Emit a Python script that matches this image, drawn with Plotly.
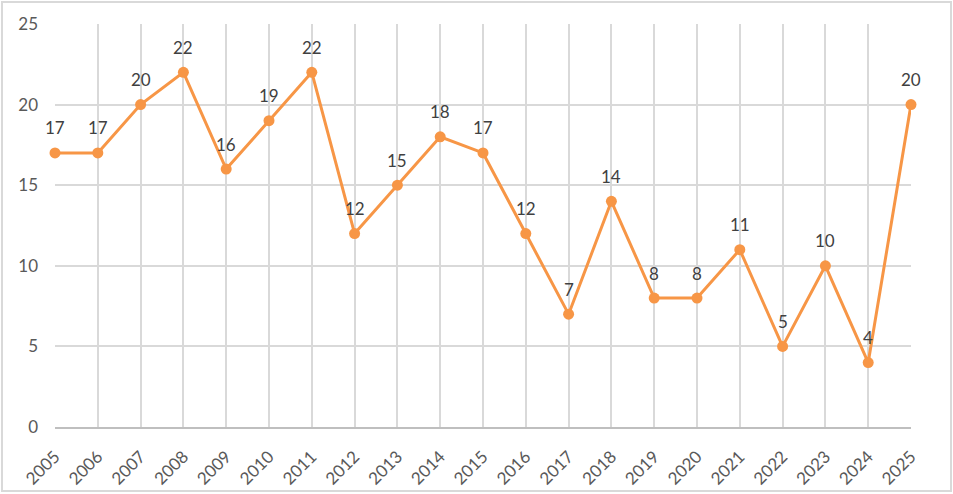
import plotly.graph_objects as go

# data
years = list(range(2005, 2026))
values = [17, 17, 20, 22, 16, 19, 22, 12, 15, 18, 17, 12, 7, 14, 8, 8, 11, 5, 10, 4, 20]

W, H = 953, 494
L, R, T, B = 55, 42, 24, 67
pw, ph = W - L - R, H - T - B

fig = go.Figure(go.Scatter(
    x=years, y=values,
    mode="lines+markers",
    line=dict(color="#F79646", width=3),
    marker=dict(size=11, color="#F79646"),
    cliponaxis=False,
    hoverinfo="x+y",
))

# data labels above each point
for yr, v in zip(years, values):
    fig.add_annotation(
        x=yr, y=v, text=str(v), showarrow=False, yshift=25,
        font=dict(size=17, color="#404040"),
    )

fig.update_layout(
    width=W, height=H,
    margin=dict(l=L, r=R, t=T, b=B),
    paper_bgcolor="white", plot_bgcolor="white",
    font=dict(family="Lato, Open Sans, sans-serif", size=17, color="#595959"),
    showlegend=False,
)

fig.update_xaxes(
    range=[2005, 2025], tickmode="linear", tick0=2005, dtick=1,
    tickangle=-45, showgrid=True, gridcolor="#D9D9D9", gridwidth=1.5,
    showline=True, linecolor="#BFBFBF", linewidth=2,
    ticks="", zeroline=False, ticklabelstandoff=11, automargin=False,
)
fig.update_yaxes(
    range=[0, 25], dtick=5, showgrid=True, gridcolor="#D9D9D9", gridwidth=1.5,
    showline=False, zeroline=False, ticks="", ticklabelstandoff=16,
    automargin=False,
)

# outer chart border
fig.add_shape(
    type="rect", xref="paper", yref="paper",
    x0=(2 - L) / pw, x1=(W - 2 - L) / pw,
    y0=-(H - 3 - T - ph) / ph, y1=(ph + T - 2) / ph,
    line=dict(color="#D9D9D9", width=2), layer="below",
)

fig.write_html("out.html", config={"displayModeBar": False},
               post_script="document.body.style.margin='0';")
